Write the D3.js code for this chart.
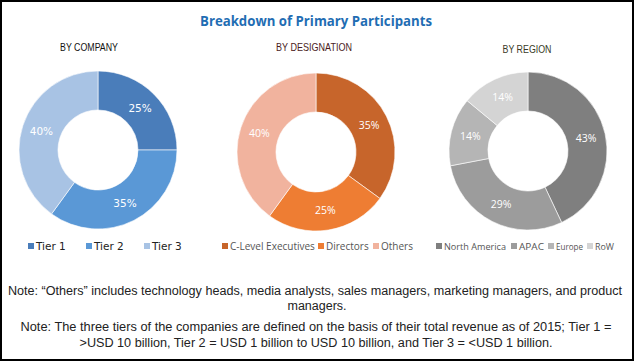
<!DOCTYPE html>
<html>
<head>
<meta charset="utf-8">
<script src="https://cdn.jsdelivr.net/npm/d3@7"></script>
<style>
  body { margin: 0; background: #fff; }
  svg { display: block; }
</style>
</head>
<body>
<svg id="chart" width="635" height="362"></svg>
<script>
// data
var companyLabels = ["Tier 1", "Tier 2", "Tier 3"];
var companyValues = [25, 35, 40];
var designationLabels = ["C-Level Executives", "Directors", "Others"];
var designationValues = [35, 25, 40];
var regionLabels = ["North America", "APAC", "Europe", "RoW"];
var regionValues = [43, 29, 14, 14];

var notes = [
  "Note: \u201cOthers\u201d  includes technology heads, media analysts, sales managers, marketing managers, and product",
  "managers.",
  "Note: The three tiers of the companies are defined on the basis of their total revenue as of 2015; Tier 1 =",
  ">USD 10 billion, Tier 2 = USD 1 billion to USD 10 billion, and Tier 3 = <USD 1 billion."
];

var svg = d3.select("#chart");

// frame
svg.append("rect").attr("x", 1).attr("y", 1).attr("width", 632).attr("height", 359)
  .attr("fill", "none").attr("stroke", "#000").attr("stroke-width", 2);

svg.append("text").attr("x", 316).attr("y", 26).attr("text-anchor", "middle")
  .style("font-family", "'Open Sans', sans-serif").style("font-weight", "bold")
  .style("font-size", "13.5px").attr("fill", "#1f6db3")
  .attr("textLength", 232).attr("lengthAdjust", "spacingAndGlyphs")
  .text("Breakdown of Primary Participants");

var pies = [
  { title: "BY COMPANY", tx: 89, ty: 51, tw: 58, tc: "#111", cx: 98, cy: 150, labels: companyLabels, values: companyValues,
    colors: ["#4a7dba", "#5a98d6", "#a8c3e4"], legendX: [28, 86, 144], legendColor: "#222",
    labelFont: "'DejaVu Sans', sans-serif", labelSize: "10.5px" },
  { title: "BY DESIGNATION", tx: 314, ty: 51, tw: 76, tc: "#4a1c1c", cx: 316, cy: 152, labels: designationLabels, values: designationValues,
    colors: ["#c7652b", "#ee7d33", "#f1b39e"], legendX: [222, 318, 373], legendColor: "#555",
    labelFont: "'Open Sans', sans-serif", labelSize: "10px" },
  { title: "BY REGION", tx: 527, ty: 53, tw: 49, tc: "#3a3a26", cx: 528, cy: 151, labels: regionLabels, values: regionValues,
    colors: ["#7f7f7f", "#9c9c9c", "#b5b5b5", "#d4d4d4"], legendX: [436, 511, 548, 587], legendColor: "#555",
    labelFont: "'Open Sans', sans-serif", labelSize: "9.5px", legendW: [62, 25, 27, 19] }
];

var pie = d3.pie().sort(null);
var arc = d3.arc().innerRadius(40).outerRadius(79);

pies.forEach(function (p) {
  svg.append("text").attr("x", p.tx).attr("y", p.ty).attr("text-anchor", "middle")
    .style("font-family", "'Liberation Sans', sans-serif")
    .style("font-size", "11px").attr("fill", p.tc)
    .attr("textLength", p.tw).attr("lengthAdjust", "spacingAndGlyphs")
    .text(p.title);

  var g = svg.append("g").attr("transform", "translate(" + p.cx + "," + p.cy + ")");
  var arcs = pie(p.values);

  g.selectAll("path").data(arcs).enter().append("path")
    .attr("d", arc).attr("fill", (d, i) => p.colors[i])
    .attr("stroke", "#fff").attr("stroke-width", 0.6);

  g.selectAll("text").data(arcs).enter().append("text")
    .attr("transform", d => "translate(" + arc.centroid(d) + ")")
    .attr("text-anchor", "middle").attr("dy", "0.35em")
    .style("font-family", p.labelFont).style("font-size", "10.5px")
    .attr("fill", "#fff").text(d => d.data + "%");

  var lg = svg.append("g");
  p.labels.forEach(function (l, i) {
    lg.append("rect").attr("x", p.legendX[i]).attr("y", 243).attr("width", 6).attr("height", 6)
      .attr("fill", p.colors[i]);
    var t = lg.append("text").attr("x", p.legendX[i] + 8).attr("y", 249.5)
      .style("font-family", p.labelFont).style("font-size", p.labelSize)
      .attr("fill", p.legendColor).text(l);
    if (p.legendW) t.attr("textLength", p.legendW[i]).attr("lengthAdjust", "spacingAndGlyphs");
  });
});

var noteY = [295, 310, 331, 347];
var noteX = [315, 317, 316, 316];
var noteW = [614, null, 591, 473];
notes.forEach(function (n, i) {
  var t = svg.append("text").attr("x", noteX[i]).attr("y", noteY[i]).attr("text-anchor", "middle")
    .style("font-family", "'Liberation Sans', sans-serif")
    .style("font-size", "12.5px").attr("fill", "#222").text(n);
  if (noteW[i]) t.attr("textLength", noteW[i]).attr("lengthAdjust", "spacingAndGlyphs");
});
</script>
</body>
</html>
